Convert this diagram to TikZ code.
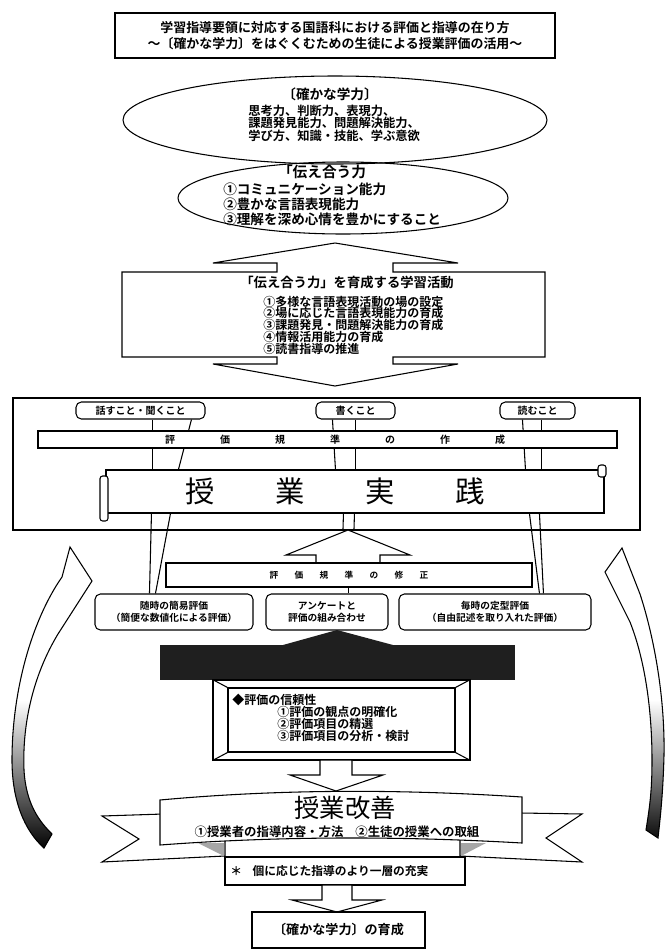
\documentclass[tikz,border=0pt]{standalone}
\usepackage{fontspec}
\setmainfont{Noto Sans CJK JP}[BoldFont={Noto Sans CJK JP Bold}]
\usetikzlibrary{shapes.geometric,calc}
\newcommand\fs[2]{\fontsize{#1}{#2}\selectfont}
\begin{document}
\begin{tikzpicture}[x=0.75pt,y=-0.75pt,
  ln/.style={line width=0.8pt},
  bx/.style={draw,line width=0.8pt,fill=white,inner sep=0pt},
  rbx/.style={bx,rounded corners=4pt},
  tx/.style={inner sep=0pt,align=#1},
  tx/.default=center]
\fill[white] (0,0) rectangle (666,950);
\useasboundingbox (0,0) rectangle (666,950);

% title
\node[bx, minimum width=330pt, minimum height=33.75pt] (title) at (335,35.5) {};
\node[tx, font=\bfseries\fs{9.7}{12}] (titlet) at (title.center) {学習指導要領に対応する国語科における評価と指導の在り方\\～〔確かな学力〕をはぐくむための生徒による授業評価の活用～};

% ellipses
\node[draw, ln, ellipse, minimum width=318pt, minimum height=66pt, inner sep=0pt] (e1) at (335,120) {};
\node[draw, ln, ellipse, minimum width=247.5pt, minimum height=54pt, inner sep=0pt] (e2) at (343,198) {};
\node[tx, font=\bfseries\fs{10.2}{12}] (e1t) at (330,94) {〔確かな学力〕};
\node[tx=left, anchor=west, font=\bfseries\fs{9.2}{9.4}] (e1b) at (248,123) {思考力、判断力、表現力、\\課題発見能力、問題解決能力、\\学び方、知識・技能、学ぶ意欲};
\node[tx, font=\bfseries\fs{11}{12}] (e2t) at (322,172) {「伝え合う力};
\node[tx=left, anchor=west, font=\bfseries\fs{10.2}{11.25}] (e2b) at (223,204) {①コミュニケーション能力\\②豊かな言語表現能力\\③理解を深め心情を豊かにすること};

% double block arrow
\draw[ln, fill=white] (335,243) -- (458,263) -- (393,263) -- (393,272) -- (545,272) -- (545,357) -- (393,357) -- (393,364) -- (458,364) -- (335,386) -- (213,364) -- (277,364) -- (277,357) -- (122,357) -- (122,272) -- (277,272) -- (277,263) -- (213,263) -- cycle;
\node[tx, font=\bfseries\fs{10}{12}] (act) at (347,282) {「伝え合う力」を育成する学習活動};
\node[tx=left, anchor=west, font=\bfseries\fs{9}{8.8}] (actb) at (263,325) {①多様な言語表現活動の場の設定\\②場に応じた言語表現能力の育成\\③課題発見・問題解決能力の育成\\④情報活用能力の育成\\⑤読書指導の推進};

% frame
\node[draw, line width=1.6pt, minimum width=470.25pt, minimum height=99pt, inner sep=0pt] (frame) at (326.5,464) {};

% lesson practice box
\node[bx, minimum width=373.5pt, minimum height=32.25pt] (jj) at (355,491.5) {};
\node[tx, font=\fs{22}{24}] (jjt) at (335,491) {授\hspace{45.5pt}業\hspace{45.5pt}実\hspace{45.5pt}践};
\draw[ln, fill=white, rounded corners=2pt] (100,476) rectangle (108,521);
\draw[ln, fill=white, rounded corners=2pt] (598,465) rectangle (606,477);

% tabs
\node[rbx, minimum width=96.75pt, minimum height=12.75pt, font=\bfseries\fs{7.5}{8}] (tab1) at (140.5,410.5) {話すこと・聞くこと};
\node[rbx, minimum width=59.25pt, minimum height=12.75pt, font=\bfseries\fs{7.5}{8}] (tab2) at (355.5,410.5) {書くこと};
\node[rbx, minimum width=56.25pt, minimum height=12.75pt, font=\bfseries\fs{7.5}{8}] (tab3) at (537.5,410.5) {読むこと};
\draw[ln] ($(tab1.south west)+(77,0)$) -- ($(jj.north west)+(47,0)$);
\draw[ln] ($(tab1.south west)+(116,0)$) -- ($(jj.north west)+(73,0)$);
\draw[ln] ($(tab2.south west)+(17,0)$) -- ($(jj.north west)+(230,0)$);
\draw[ln] ($(tab2.south west)+(40,0)$) -- ($(jj.north west)+(250,0)$);
\draw[ln] ($(tab3.south west)+(23,0)$) -- ($(jj.north west)+(420,0)$);
\draw[ln] ($(tab3.south west)+(42,0)$) -- ($(jj.north west)+(436,0)$);

% criteria bar
\node[bx, minimum width=434.25pt, minimum height=12.75pt] (mk) at (327.5,439.5) {};
\node[tx, font=\bfseries\fs{7.5}{8}] (mkt) at (335,439.5) {評\hspace{33.75pt}価\hspace{33.75pt}規\hspace{33.75pt}準\hspace{33.75pt}の\hspace{33.75pt}作\hspace{33.75pt}成};

% stems below practice box
\draw[ln] ($(jj.south west)+(238,0)$) -- ($(frame.south west)+(331,0)$);
\draw[ln] ($(jj.south west)+(249,0)$) -- ($(frame.south west)+(342,0)$);

% hollow up arrow
\draw[ln, fill=white] (348,530) -- (410,555) -- (380,555) -- (380,563) -- (316,563) -- (316,555) -- (286,555) -- cycle;
\node[bx, minimum width=274.5pt, minimum height=18pt] (fix) at (349,575) {};
\node[tx, font=\bfseries\fs{6.5}{7}] (fixt) at (349,575) {評\hspace{12.25pt}価\hspace{12.25pt}規\hspace{12.25pt}準\hspace{12.25pt}の\hspace{12.25pt}修\hspace{12.25pt}正};

% evaluation boxes
\node[rbx, tx, minimum width=118.5pt, minimum height=27pt, font=\bfseries\fs{7.3}{9}] (b1) at (174,612) {随時の簡易評価\\（簡便な数値化による評価）};
\node[rbx, tx, minimum width=91.5pt, minimum height=27pt, font=\bfseries\fs{7.3}{9}] (b2) at (327,612) {アンケートと\\評価の組み合わせ};
\node[rbx, tx, minimum width=144pt, minimum height=27pt, font=\bfseries\fs{7.3}{9}] (b3) at (495,612) {毎時の定型評価\\（自由記述を取り入れた評価）};
\draw[ln] ($(b1.north west)+(55,0)$) -- ($(jj.south west)+(46,0)$);
\draw[ln] ($(b1.north west)+(61,0)$) -- ($(jj.south west)+(65,0)$);
\draw[ln] ($(b3.north west)+(141,0)$) -- ($(jj.south west)+(424,0)$);
\draw[ln] ($(b3.north west)+(145,0)$) -- ($(jj.south west)+(434,0)$);
\draw[ln] ($(fix.south west)+(183,0)$) -- ($(b2.north west)+(83,0)$);

% dark arrow bar
\fill[black!88] (337,630) -- (393,645) -- (283,645) -- cycle;
\node[fill=black!88, minimum width=266.25pt, minimum height=26.25pt, inner sep=0pt] (dark) at (337.5,662.5) {};

% bevelled box
\node[bx, minimum width=192.75pt, minimum height=60pt] (bev) at (341.5,720) {};
\node[draw, ln, minimum width=170.25pt, minimum height=48pt, inner sep=0pt] (bevi) at (341.5,720) {};
\draw[ln] (bev.north west) -- (bevi.north west) (bev.north east) -- (bevi.north east)
          (bev.south west) -- (bevi.south west) (bev.south east) -- (bevi.south east);
\node[tx, anchor=west, font=\bfseries\fs{9}{10}] (rel) at (232,700) {◆評価の信頼性};
\node[tx=left, anchor=west, font=\bfseries\fs{9}{8.7}] (relb) at (277,724) {①評価の観点の明確化\\②評価項目の精選\\③評価項目の分析・検討};

% down arrow 1
\draw[ln, fill=white] (320,760) -- (352,760) -- (352,775) -- (383,775) -- (336,791) -- (290,775) -- (320,775) -- cycle;

% banner
\draw[ln, fill=white] (225,812) -- (102,816) -- (139,839) -- (102,862) -- (225,856) -- cycle;
\draw[ln, fill=white] (460,812) -- (582,814) -- (546,838) -- (582,862) -- (460,856) -- cycle;
\fill[gray!70] (198,843) -- (224,843) -- (224,856) -- cycle;
\fill[gray!70] (486,843) -- (461,843) -- (461,856) -- cycle;
\draw[ln, fill=white] (160,800) .. controls (280,789) and (400,789) .. (522,797) -- (522,843) .. controls (400,836) and (280,836) .. (160,845) -- cycle;
\node[tx, font=\fs{19}{20}] (kz) at (345,808) {授業改善};
\node[tx, font=\bfseries\fs{9.3}{10}] (kzs) at (337,832) {①授業者の指導内容・方法\hspace{9pt}②生徒の授業への取組};

% individual box
\node[bx, minimum width=180pt, minimum height=21pt] (ko) at (345,871) {};
\node[tx, anchor=west, font=\bfseries\fs{8.8}{10}] (kot) at (230,871) {＊\hspace{8pt}個に応じた指導のより一層の充実};

% down arrow 2
\draw[ln, fill=white] (322,885) -- (352,885) -- (352,900) -- (382,900) -- (337,912) -- (292,900) -- (322,900) -- cycle;
\node[bx, minimum width=129.75pt, minimum height=27pt, font=\bfseries\fs{9.8}{10}] (fin) at (338.5,930) {〔確かな学力〕の育成};

% side curved arrows
\def\leftarr{(62,577) -- (70,547) -- (92,581) -- (58,634) .. controls (35,672) and (22,720) .. (24,770) .. controls (26,805) and (40,822) .. (52,834) -- (44,848) .. controls (24,830) and (12,800) .. (12,760) .. controls (12,690) and (32,620) .. cycle}
\def\rightarr{(630,622) -- (605,572) -- (622,548) -- (640,594) .. controls (655,640) and (665,700) .. (664,755) .. controls (663,795) and (660,820) .. (658,838) -- (646,830) .. controls (650,805) and (652,790) .. (652,760) .. controls (652,710) and (645,660) .. cycle}
\fill[white] \leftarr;
\begin{scope}
\clip \leftarr;
\shade[top color=white, bottom color=black] (0,700) rectangle (110,850);
\end{scope}
\draw[ln] \leftarr;
\fill[white] \rightarr;
\begin{scope}
\clip \rightarr;
\shade[top color=white, bottom color=black] (590,700) rectangle (666,845);
\end{scope}
\draw[ln] \rightarr;
\end{tikzpicture}
\end{document}
